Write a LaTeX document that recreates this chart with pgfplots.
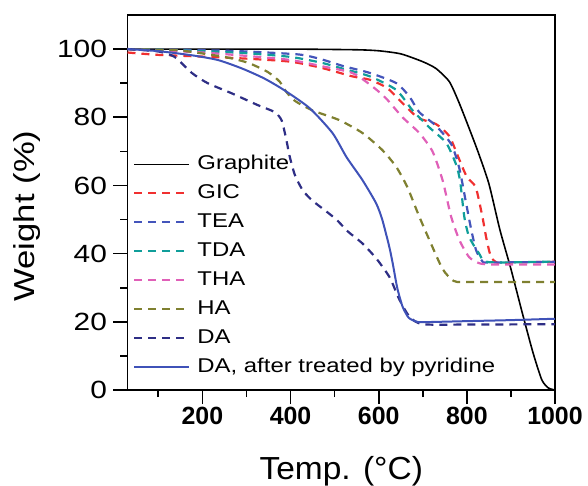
\documentclass[border=0pt]{standalone}
\usepackage{fontspec}
\setmainfont{Liberation Sans}
\newfontfamily\fLeg[FakeStretch=1.2]{Liberation Sans}
\newfontfamily\fXl[FakeStretch=1.05]{Liberation Sans}
\usepackage{pgfplots}
\pgfplotsset{compat=1.18}
\definecolor{cGIC}{HTML}{F03030}
\definecolor{cTEA}{HTML}{4455BB}
\definecolor{cTDA}{HTML}{109E9A}
\definecolor{cTHA}{HTML}{E060B8}
\definecolor{cHA}{HTML}{7F8030}
\definecolor{cDA}{HTML}{2E2E85}
\definecolor{cPy}{HTML}{3F52B8}
\tikzset{tgdash/.style={line width=2.2bp, dash pattern=on 8bp off 6bp}}
\begin{document}
\begin{tikzpicture}
\begin{axis}[
  scale only axis, width=427.5bp, height=375bp,
  xmin=30, xmax=1000, ymin=0, ymax=110,
  axis line style={line width=1.7bp},
  every tick/.style={black, line width=1.7bp},
  tick align=outside, tick pos=left,
  major tick length=14bp, minor tick length=7bp,
  xtick={200,400,...,1000}, minor xtick={100,300,...,900},
  xticklabels={200,400,600,800,1000},
  ytick={0,20,...,100}, minor ytick={10,30,...,90},
  yticklabels={0,20,40,60,80,100},
  xticklabel style={font=\fontsize{25}{28}\selectfont\bfseries},
  yticklabel style={font=\fLeg\fontsize{25}{28}\selectfont, xshift=-3bp},
  every axis y label/.style={at={(axis description cs:-0.235,0.464)}, rotate=90, anchor=center},
  every axis x label/.style={at={(axis description cs:0.5,0)}, anchor=center, yshift=-81bp},
  ylabel={\fLeg\fontsize{29}{33}\selectfont Weight (\%)},
  xlabel={\fXl\fontsize{32}{36}\selectfont Temp. (°C)},
  legend cell align=left,
  legend image code/.code={\draw[#1] (0bp,0bp) -- (55bp,0bp);},
  legend style={at={(0.013,0.629)}, anchor=north west, draw=none, fill=none,
    inner sep=0pt, row sep=9bp, column sep=7bp,
    font=\fLeg\fontsize{20}{24}\selectfont,
    nodes={inner sep=0pt, text height=15bp, text depth=5bp}},
]
\coordinate (O) at (rel axis cs:0,0);
\addplot[black, line width=1.6bp, smooth, tension=0.4] coordinates {
 (30,100)(200,100)(400,100)(550,99.8)(600,99.5)(650,98.6)(700,96.3)(730,94.3)
 (760,90.5)(780,85)(800,78.5)(825,70)(850,60.5)(875,47)(900,35.5)(925,23)
 (950,11)(970,3)(985,0.6)(1000,0)};
\addlegendentry{Graphite}
\addplot[cGIC, tgdash, smooth, tension=0.4] coordinates {
 (30,99)(100,98.3)(200,97.8)(300,97.2)(400,96.3)(470,94.5)(540,92)(580,91)
 (620,88.5)(655,84)(690,79.8)(730,78)(760,74.5)(780,68.5)(800,62.5)(820,59.5)
 (835,51)(845,44)(855,39)(870,37.3)(900,37.4)(1000,37.6)};
\addlegendentry{GIC}
\addplot[cTEA, tgdash, smooth, tension=0.4] coordinates {
 (30,100)(100,99.9)(200,99.7)(300,99.3)(420,98.4)(470,97)(520,95)(580,93)
 (640,90)(670,86)(692,81.5)(730,77.5)(765,72)(783,65)(798,55)(810,47)
 (821,41)(835,37.8)(850,37.4)(1000,37.6)};
\addlegendentry{TEA}
\addplot[cTDA, tgdash, smooth, tension=0.4] coordinates {
 (30,100)(100,99.8)(200,99.4)(300,98.8)(400,97.7)(470,96)(520,94.2)(580,92)
 (640,88)(677,82)(715,77)(753,72.5)(776,66)(785,61)(794,51)(805,45)
 (828,40)(850,37.5)(1000,37.7)};
\addlegendentry{TDA}
\addplot[cTHA, tgdash, smooth, tension=0.4] coordinates {
 (30,100)(100,99.6)(200,99)(300,98)(400,96.8)(470,95)(540,93)(586,89)
 (617,85.5)(654,80)(692,75.4)(722,70)(745,61.5)(764,51)(783,44)(805,39)
 (828,37.2)(860,36.8)(1000,36.8)};
\addlegendentry{THA}
\addplot[cHA, tgdash, smooth, tension=0.4] coordinates {
 (30,100)(100,99.8)(150,99.6)(250,97.7)(303,96)(348,93.3)(375,90.5)(390,87.5)
 (410,84.8)(450,82)(510,79.2)(563,75.4)(608,70.4)(640,65.4)(665,59.5)(690,51.5)
 (715,44)(745,35.5)(770,32)(800,31.7)(1000,31.7)};
\addlegendentry{HA}
\addplot[cDA, tgdash, smooth, tension=0.4] coordinates {
 (30,100)(100,99.3)(137,97.7)(176,93)(212,90)(267,87)(325,83.6)(364,81.5)
 (380,79)(391,73)(398,68.5)(410,63)(428,58.5)(450,55.5)(475,53)(504,50)
 (530,46.5)(563,43)(595,38.5)(625,33)(647,26.5)(670,21.5)(700,19.3)(800,19.2)(1000,19.3)};
\addlegendentry{DA}
\addplot[cPy, line width=2bp, smooth, tension=0.4] coordinates {
 (30,100)(100,99.4)(175,98.2)(235,96.8)(290,94.3)(340,91.4)(385,88)(443,82.7)
 (495,75.4)(527,68.3)(563,61.6)(594,54.8)(608,50)(624,42)(632,37)(642,30)
 (654,24.5)(668,21.2)(685,20.1)(700,19.9)(800,20.2)(900,20.5)(1000,20.9)};
\addlegendentry{DA, after treated by pyridine}
\end{axis}
\pgfresetboundingbox
\path (O) ++(-127.5bp,-96bp) rectangle ++(588bp,486bp);
\end{tikzpicture}
\end{document}
